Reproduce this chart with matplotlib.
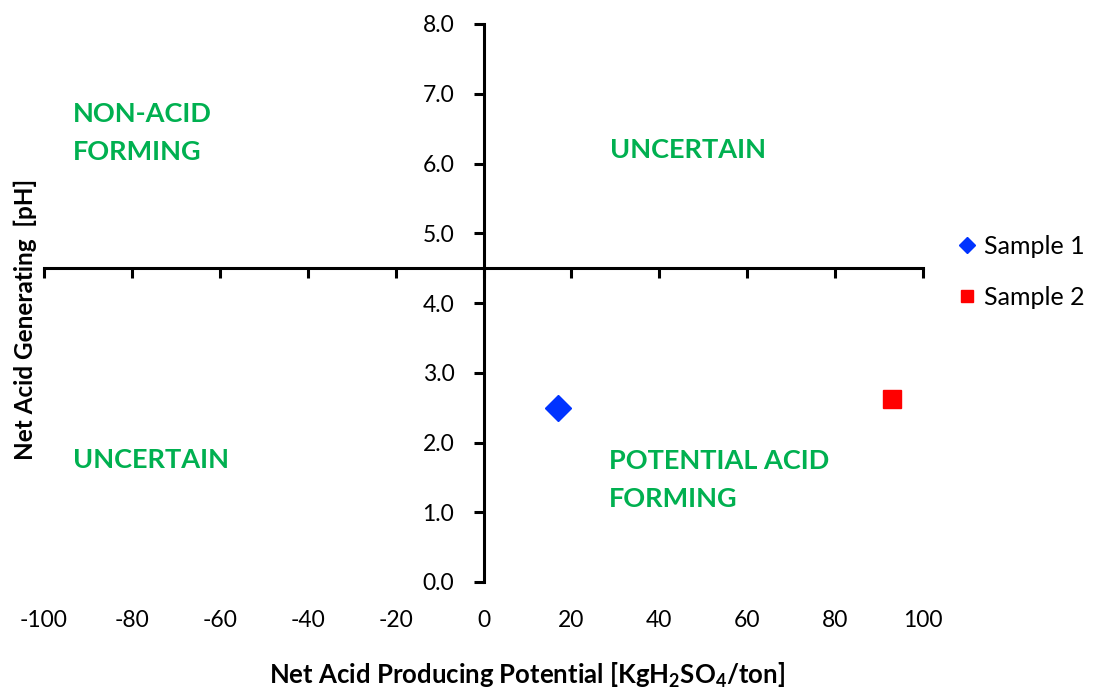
import matplotlib
matplotlib.use("Agg")
import matplotlib.pyplot as plt

plt.rcParams['font.family'] = ['Lato', 'DejaVu Sans']
plt.rcParams['mathtext.fontset'] = 'custom'
plt.rcParams['mathtext.rm'] = 'Lato'
plt.rcParams['mathtext.bf'] = 'Lato:bold'

# Data
series_names = ["Sample 1", "Sample 2"]
napp_values = [17.0, 93.0]          # Net Acid Producing Potential
nag_ph_values = [2.50, 2.62]        # Net Acid Generating pH
x_ticks = [-100, -80, -60, -40, -20, 0, 20, 40, 60, 80, 100]
y_ticks = [0, 1, 2, 3, 4, 5, 6, 7, 8]
quadrant_labels = ["NON-ACID\nFORMING", "UNCERTAIN", "UNCERTAIN", "POTENTIAL ACID\nFORMING"]
quadrant_pos = [(-93.5, 6.44), (28.8, 6.19), (-93.5, 1.75), (28.6, 1.46)]

fig = plt.figure(figsize=(11.01, 6.9), dpi=100)
ax = fig.add_axes([44/1101, 1-582/690, (923-44)/1101, (582-24)/690])

ax.set_xlim(-100, 100)
ax.set_ylim(0, 8)

ax.spines['top'].set_visible(False)
ax.spines['right'].set_visible(False)
ax.spines['bottom'].set_position(('data', 4.5))
ax.spines['left'].set_position(('data', 0))
for s in ('bottom', 'left'):
    ax.spines[s].set_linewidth(2.2)
    ax.spines[s].set_capstyle('projecting')

ax.set_xticks(x_ticks)
ax.set_xticklabels([])
ax.set_yticks(y_ticks)
ax.set_yticklabels([f"{v:.1f}" for v in y_ticks])
ax.tick_params(axis='x', direction='out', length=7, width=2.2)
ax.tick_params(axis='y', direction='out', length=7, width=2.2, pad=14, labelsize=16.5)

for xv in x_ticks:
    ax.annotate(f"{xv}", xy=(xv, 0), xytext=(0, -28), textcoords='offset points',
                ha='center', va='center', fontsize=16.5, annotation_clip=False)

colors = ['#0033FF', '#FF0000']
markers = ['D', 's']
sizes = [13.5, 13.5]
for name, xv, yv, c, m, ms in zip(series_names, napp_values, nag_ph_values, colors, markers, sizes):
    ax.plot([xv], [yv], linestyle='none', marker=m, markersize=ms, color=c,
            markeredgecolor=c, label=name, clip_on=False, zorder=5)

for txt, (xv, yv) in zip(quadrant_labels, quadrant_pos):
    ax.text(xv, yv, txt, ha='left', va='center', fontsize=19.5, fontweight='bold',
            color='#00B050', linespacing=1.68)

leg = fig.legend(loc='upper left', bbox_to_anchor=(936/1101, 1-212/690), frameon=False,
                 fontsize=18, markerscale=0.62, handlelength=0.7, handletextpad=0.3,
                 labelspacing=1.12)

fig.text(527/1101, 1-675/690,
         r"Net Acid Producing Potential [KgH$_\mathbf{2}$SO$_\mathbf{4}$/ton]",
         ha='center', va='center', fontsize=18.5, fontweight='bold')
fig.text(25/1101, 1-319/690, "Net Acid Generating  [pH]", rotation=90,
         ha='center', va='center', fontsize=17.5, fontweight='bold')

fig.savefig("out.png", dpi=100)
